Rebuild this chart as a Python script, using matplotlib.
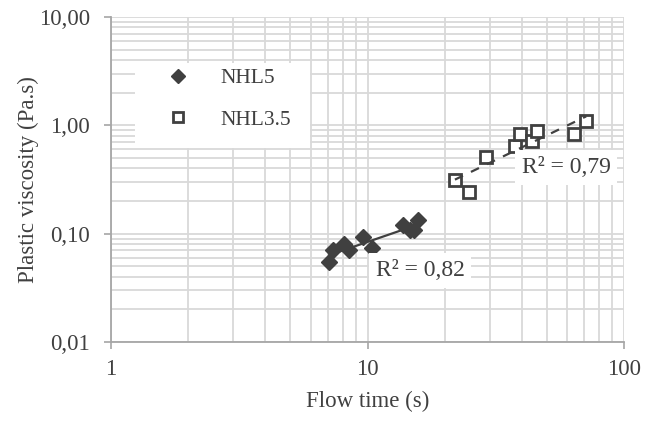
# Plastic viscosity vs flow time for two lime mortars, log-log with power trendlines

import numpy as np
import matplotlib.pyplot as plt
from matplotlib.patches import Rectangle
from matplotlib.ticker import FixedLocator, FixedFormatter, LogLocator, NullFormatter

plt.rcParams['font.family'] = ['Liberation Serif', 'DejaVu Serif']

# NHL5 series
nhl5_time = [7.1, 7.3, 8.1, 8.5, 9.6, 10.4, 13.7, 14.6, 15.2, 15.7]
nhl5_visc = [0.055, 0.070, 0.080, 0.070, 0.094, 0.073, 0.119, 0.107, 0.107, 0.133]

# NHL3.5 series
nhl35_time = [21.9, 24.9, 29.0, 37.6, 39.3, 43.8, 45.8, 63.8, 71.1]
nhl35_visc = [0.31, 0.24, 0.51, 0.65, 0.84, 0.71, 0.88, 0.84, 1.09]

r2_labels = ['R² = 0,82', 'R² = 0,79']
y_ticks = [0.01, 0.1, 1, 10]
y_ticklabels = ['0,01', '0,10', '1,00', '10,00']
x_ticks = [1, 10, 100]
x_ticklabels = ['1', '10', '100']

dark = '#404040'
grid_col = '#d9d9d9'


def power_fit(x, y):
    # y = a * x^b, fitted in log space like a spreadsheet trendline
    b, loga = np.polyfit(np.log(x), np.log(y), 1)
    xs = np.linspace(min(x), max(x), 50)
    return xs, np.exp(loga) * xs ** b


fig = plt.figure(figsize=(6.46, 4.28), dpi=100)
ax = fig.add_axes([0.1718, 0.2009, 0.7944, 0.7594])

ax.set_xscale('log')
ax.set_yscale('log')
ax.set_xlim(1, 100)
ax.set_ylim(0.01, 10)

# grid, major and minor alike
ax.xaxis.set_minor_locator(LogLocator(base=10, subs=np.arange(2, 10)))
ax.yaxis.set_minor_locator(LogLocator(base=10, subs=np.arange(2, 10)))
ax.xaxis.set_minor_formatter(NullFormatter())
ax.yaxis.set_minor_formatter(NullFormatter())
ax.grid(True, which='both', color=grid_col, lw=1.3, zorder=0)
ax.set_axisbelow(True)

ax.xaxis.set_major_locator(FixedLocator(x_ticks))
ax.xaxis.set_major_formatter(FixedFormatter(x_ticklabels))
ax.yaxis.set_major_locator(FixedLocator(y_ticks))
ax.yaxis.set_major_formatter(FixedFormatter(y_ticklabels))
ax.tick_params(which='minor', length=0)
ax.tick_params(which='major', length=5, width=1.2, color='#a6a6a6',
               labelsize=16.5, labelcolor=dark)
ax.tick_params(axis='y', pad=10)
ax.tick_params(axis='x', pad=7)

for side in ['top', 'right']:
    ax.spines[side].set_visible(False)
for side in ['left', 'bottom']:
    ax.spines[side].set_color('#a6a6a6')
    ax.spines[side].set_linewidth(1.3)

ax.plot(nhl5_time, nhl5_visc, 'D', ms=8.5, color=dark, mec=dark, ls='none',
        label='NHL5', zorder=3)
ax.plot(nhl35_time, nhl35_visc, 's', ms=8, mfc='white', mec=dark, mew=2,
        ls='none', label='NHL3.5', zorder=3)

xs, ys = power_fit(nhl5_time, nhl5_visc)
ax.plot(xs, ys, color=dark, lw=1.6, zorder=4)
xs, ys = power_fit(nhl35_time, nhl35_visc)
ax.plot(xs, ys, color=dark, lw=1.6, ls=(0, (4, 4)), zorder=4)

box = dict(facecolor='white', edgecolor='none', pad=5)
ax.text(16.0, 0.0458, r2_labels[0], fontsize=17, color=dark, ha='center',
        va='center', bbox=box, zorder=5)
ax.text(59.4, 0.41, r2_labels[1], fontsize=17, color=dark, ha='center',
        va='center', bbox=box, zorder=5)

# white legend panel over the grid
ax.add_patch(Rectangle((0.047, 0.597), 0.341, 0.261, transform=ax.transAxes,
                       facecolor='white', edgecolor='none', zorder=5))
leg = ax.legend(loc='upper left', bbox_to_anchor=(0.076, 0.843), frameon=False,
                fontsize=15.5, markerscale=0.85, borderpad=0, labelspacing=1.0,
                handlelength=2.6, handletextpad=0.65, borderaxespad=0)
for t in leg.get_texts():
    t.set_color(dark)
leg.set_zorder(6)

ax.set_xlabel('Flow time (s)', fontsize=16.5, color=dark, labelpad=8)
ax.set_ylabel('Plastic viscosity (Pa.s)', fontsize=16.5, color=dark, labelpad=0)

fig.savefig('out.png', dpi=100)
